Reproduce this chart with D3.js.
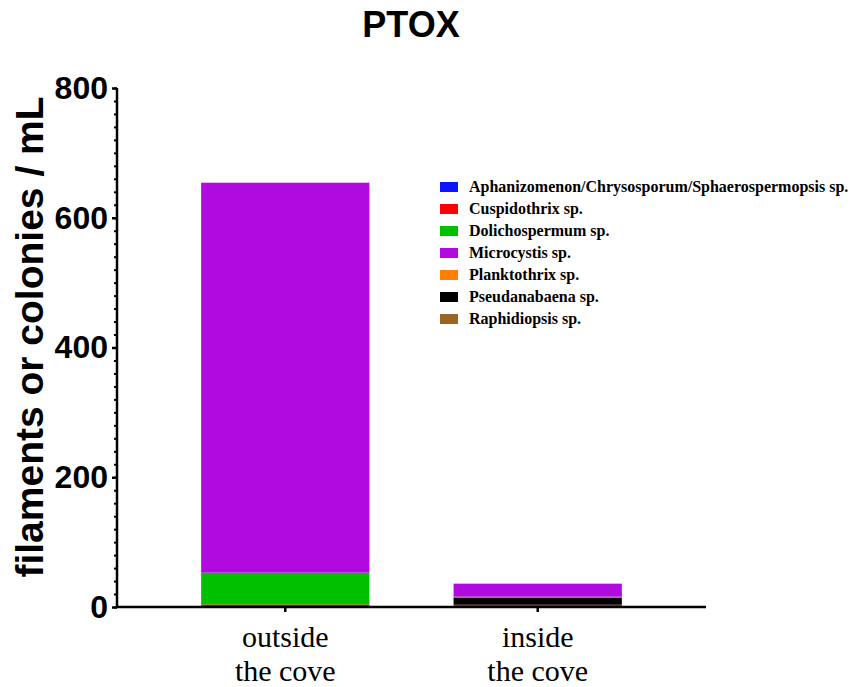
<!DOCTYPE html>
<html>
<head>
<meta charset="utf-8">
<script src="https://cdn.jsdelivr.net/npm/d3@7"></script>
<style>
  body { margin: 0; background: #fff; }
</style>
</head>
<body>
<div id="chart"></div>
<script>
// sites on the x axis
var sites = ["outside|the cove", "inside|the cove"];

// taxa, in legend order
var taxa = [
  "Aphanizomenon/Chrysosporum/Sphaerospermopsis sp.",
  "Cuspidothrix sp.",
  "Dolichospermum sp.",
  "Microcystis sp.",
  "Planktothrix sp.",
  "Pseudanabaena sp.",
  "Raphidiopsis sp."
];
var taxaColors = ["#0a14ff", "#ff0000", "#00c000", "#b00ae0", "#ff8000", "#000000", "#9c6422"];

// stacking order, bottom to top (Microcystis ends up on top)
var stackOrder = [0, 1, 2, 4, 5, 6, 3];

// filaments or colonies / mL per taxon, one value per site (outside, inside)
var aphanizomenon = [1, 1.5];
var cuspidothrix  = [3, 2];
var dolichospermum = [49, 0];
var microcystis   = [601, 20];
var planktothrix  = [0, 0];
var pseudanabaena = [0, 11];
var raphidiopsis  = [0, 1.5];
var seriesValues = [aphanizomenon, cuspidothrix, dolichospermum, microcystis, planktothrix, pseudanabaena, raphidiopsis];

var yTicks = [0, 200, 400, 600, 800];

var W = 854, H = 687;
var margin = {left: 117, right: 148, top: 88, bottom: 80};

var svg = d3.select("#chart").append("svg")
  .attr("width", W)
  .attr("height", H);

var x = d3.scaleBand()
  .domain(sites)
  .range([margin.left, W - margin.right])
  .paddingInner(1/3)
  .paddingOuter(1/3);

var y = d3.scaleLinear()
  .domain([0, 800])
  .range([H - margin.bottom, margin.top]);

// build rows for d3.stack
var rows = sites.map(function(s, i){
  var r = {site: s};
  taxa.forEach(function(t, k){ r[t] = seriesValues[k][i]; });
  return r;
});
var stack = d3.stack().keys(stackOrder.map(function(k){ return taxa[k]; }));
var layers = stack(rows);

svg.append("g").selectAll("g")
  .data(layers)
  .enter().append("g")
  .attr("fill", function(d){ return taxaColors[taxa.indexOf(d.key)]; })
  .selectAll("rect")
  .data(function(d){ return d; })
  .enter().append("rect")
  .attr("x", function(d){ return x(d.data.site); })
  .attr("width", x.bandwidth())
  .attr("y", function(d){ return y(d[1]); })
  .attr("height", function(d){ return Math.max(0, y(d[0]) - y(d[1])); });

// y axis with minor ticks every 20
var yAxis = svg.append("g")
  .attr("transform", "translate(" + margin.left + ",0)");
yAxis.call(d3.axisLeft(y).tickValues(d3.range(0, 801, 20)).tickSize(3).tickFormat(""))
yAxis.select(".domain").remove();
yAxis.selectAll("line").attr("stroke", "#000").attr("stroke-width", 2);

var yMajor = svg.append("g")
  .attr("transform", "translate(" + margin.left + ",0)")
  .call(d3.axisLeft(y).tickValues(yTicks).tickSize(5).tickSizeOuter(0).tickPadding(4));
yMajor.select(".domain").attr("stroke-width", 2.5).attr("d", "M0," + y(800) + "V" + (y(0) + 1));
yMajor.selectAll("line").attr("stroke-width", 2.5);
yMajor.selectAll("text")
  .attr("font-family", "Liberation Sans, Arial, sans-serif")
  .attr("font-weight", "bold")
  .attr("font-size", 32)
  .attr("fill", "#000");

// x axis
var xAxis = svg.append("g")
  .attr("transform", "translate(0," + y(0) + ")")
  .call(d3.axisBottom(x).tickSize(5).tickSizeOuter(0).tickFormat(""));
xAxis.select(".domain").attr("stroke-width", 2.5).attr("d", "M" + margin.left + ",0H" + (W - margin.right));
xAxis.selectAll("line").attr("stroke-width", 2.5);

// x labels, two lines each (separate texts so lines don't collide)
sites.forEach(function(d){
  d.split("|").forEach(function(p, i){
    svg.append("text")
      .attr("x", x(d) + x.bandwidth() / 2)
      .attr("y", i == 0 ? 647 : 681)
      .attr("text-anchor", "middle")
      .attr("font-family", "Liberation Serif, Times New Roman, serif")
      .attr("font-size", 30)
      .text(p);
  });
});

// title
svg.append("text")
  .attr("x", 411)
  .attr("y", 37)
  .attr("text-anchor", "middle")
  .attr("font-family", "Liberation Sans, Arial, sans-serif")
  .attr("font-weight", "bold")
  .attr("font-size", 36)
  .text("PTOX");

// y label
svg.append("text")
  .attr("transform", "translate(43,337) rotate(-90)")
  .attr("text-anchor", "middle")
  .attr("font-family", "Liberation Sans, Arial, sans-serif")
  .attr("font-weight", "bold")
  .attr("font-size", 39)
  .text("filaments or colonies / mL");

// legend
var legend = svg.append("g").attr("transform", "translate(440,187)");
var item = legend.selectAll("g")
  .data(taxa)
  .enter().append("g")
  .attr("transform", function(d, i){ return "translate(0," + (i * 22) + ")"; });
item.append("rect")
  .attr("x", 0)
  .attr("y", -5)
  .attr("width", 18)
  .attr("height", 10)
  .attr("fill", function(d, i){ return taxaColors[i]; });
item.append("text")
  .attr("x", 29)
  .attr("y", 5)
  .attr("font-family", "Liberation Serif, Times New Roman, serif")
  .attr("font-weight", "bold")
  .attr("font-size", 16)
  .text(function(d){ return d; });
</script>
</body>
</html>
